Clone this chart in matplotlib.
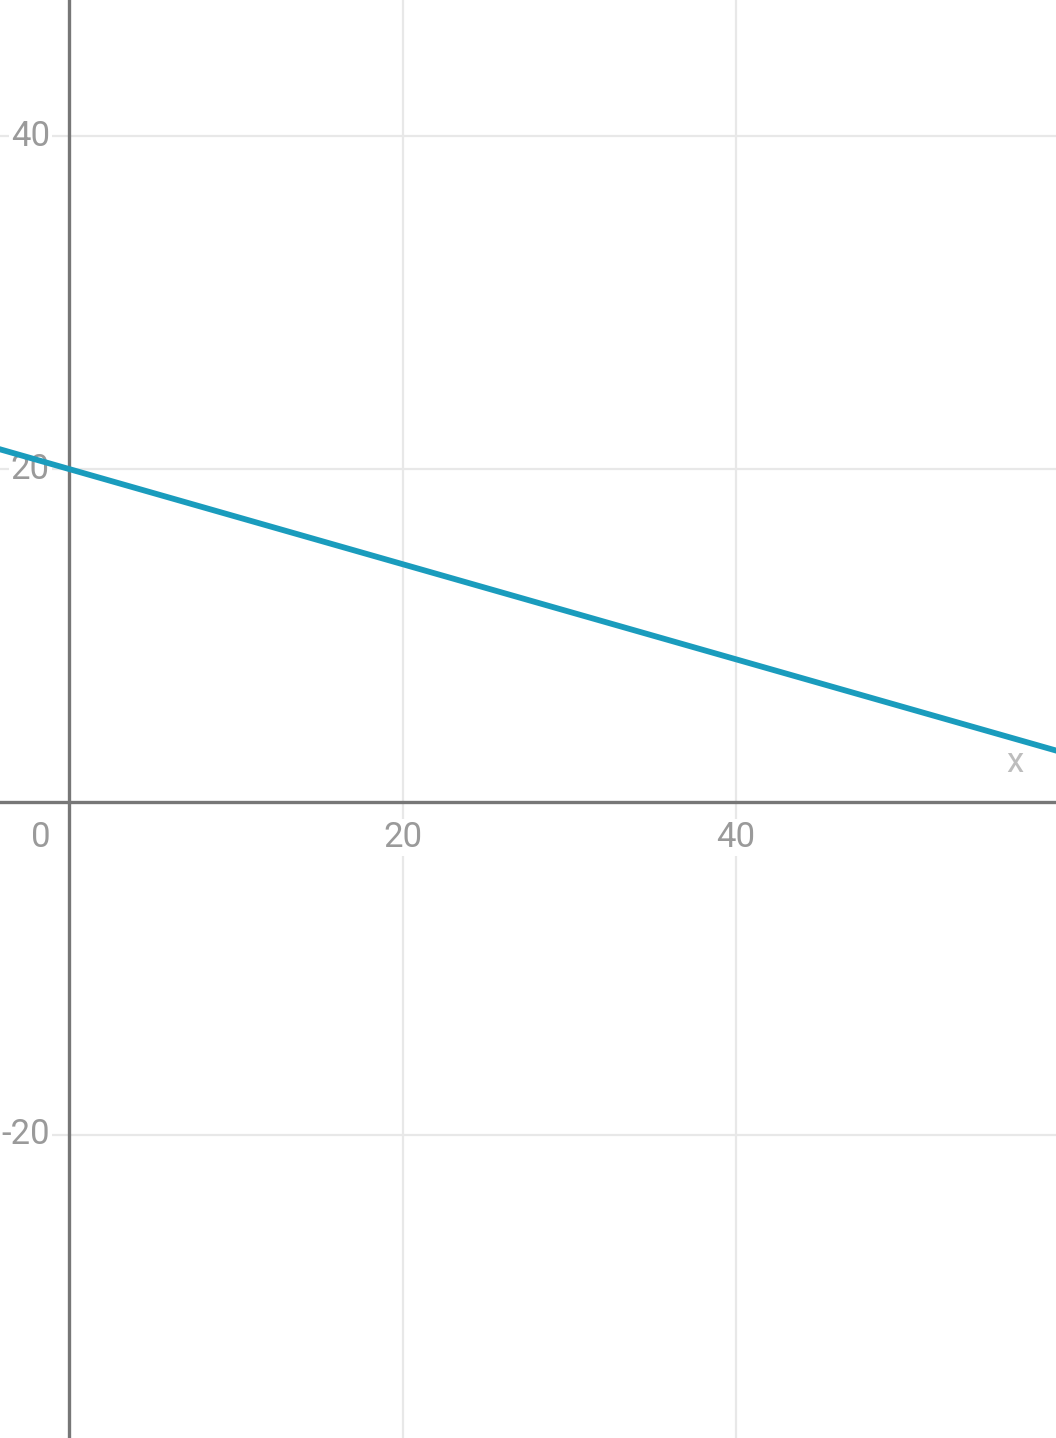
import matplotlib
matplotlib.use('Agg')
import matplotlib.pyplot as plt

plt.rcParams['font.family'] = ['Roboto', 'DejaVu Sans']

# line: passes (0, 20) and about (40, 8.6)
line_x = [-5, 0, 40, 60]
line_y = [21.43, 20.0, 8.57, 2.86]

x_ticks = [20, 40]
x_tick_labels = ['20', '40']
y_ticks = [40, 20, -20]
y_tick_labels = ['40', '20', '-20']
axis_label = 'x'

grid_col = '#e8e8e8'
axis_col = '#777777'
text_col = '#9a9a9a'

fig = plt.figure(figsize=(10.56, 14.38), dpi=100, facecolor='white')
ax = fig.add_axes([0, 0, 1, 1])
ax.set_xlim(-4.14, 59.19)
ax.set_ylim(-38.2, 48.17)
ax.axis('off')

# grid
for xv in x_ticks:
    ax.axvline(xv, color=grid_col, lw=1.6, zorder=1)
for yv in y_ticks:
    ax.axhline(yv, color=grid_col, lw=1.6, zorder=1)

# main axes
ax.axhline(0, color=axis_col, lw=2.4, zorder=2)
ax.axvline(0, color=axis_col, lw=2.4, zorder=2)

# the line (drawn over the tick labels, as in the reference)
ax.plot(line_x, line_y, color='#1a9cbd', lw=4.2, solid_capstyle='butt', zorder=5)

box = dict(facecolor='white', edgecolor='none', pad=1.5)
for xv, lab in zip(x_ticks, x_tick_labels):
    ax.text(xv, -2.15, lab, ha='center', va='center', fontsize=25,
            color=text_col, bbox=box, zorder=4)
ax.text(-1.7, -2.15, '0', ha='center', va='center', fontsize=25,
        color=text_col, bbox=box, zorder=4)
for yv, lab in zip(y_ticks, y_tick_labels):
    ax.text(-1.15, yv, lab, ha='right', va='center', fontsize=25,
            color=text_col, bbox=box, zorder=4)

ax.text(56.7, 2.4, axis_label, ha='center', va='center', fontsize=25,
        color='#bdbdbd', zorder=4)

plt.savefig('out.png', dpi=100, facecolor='white')
